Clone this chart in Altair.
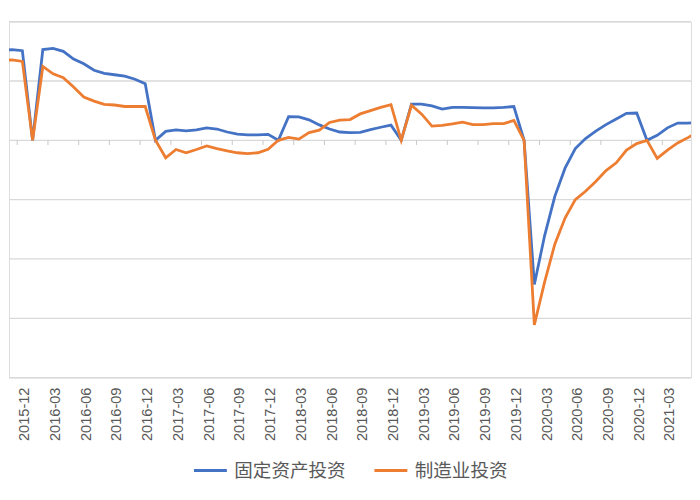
import altair as alt
import pandas as pd

# ---------------- data ----------------
months = [
    "2015-10", "2015-11", "2015-12",
    "2016-01", "2016-02", "2016-03", "2016-04", "2016-05", "2016-06",
    "2016-07", "2016-08", "2016-09", "2016-10", "2016-11", "2016-12",
    "2017-01", "2017-02", "2017-03", "2017-04", "2017-05", "2017-06",
    "2017-07", "2017-08", "2017-09", "2017-10", "2017-11", "2017-12",
    "2018-01", "2018-02", "2018-03", "2018-04", "2018-05", "2018-06",
    "2018-07", "2018-08", "2018-09", "2018-10", "2018-11", "2018-12",
    "2019-01", "2019-02", "2019-03", "2019-04", "2019-05", "2019-06",
    "2019-07", "2019-08", "2019-09", "2019-10", "2019-11", "2019-12",
    "2020-01", "2020-02", "2020-03", "2020-04", "2020-05", "2020-06",
    "2020-07", "2020-08", "2020-09", "2020-10", "2020-11", "2020-12",
    "2021-01", "2021-02", "2021-03", "2021-04", "2021-05", "2021-06",
]

fixed_asset = [
    15.2, 15.3, 15.1,
    0, 15.3, 15.5, 15.0, 13.7, 12.9,
    11.8, 11.3, 11.05, 10.8, 10.3, 9.55,
    0, 1.5, 1.75, 1.6, 1.75, 2.1,
    1.9, 1.4, 1.05, 0.9, 0.9, 1.0,
    0, 4.0, 3.95, 3.45, 2.6, 1.9,
    1.4, 1.3, 1.35, 1.8, 2.2, 2.55,
    0, 6.1, 6.1, 5.8, 5.25, 5.55,
    5.55, 5.5, 5.45, 5.45, 5.55, 5.7,
    0, -24.3, -16.1, -9.45, -4.7, -1.4,
    0.3, 1.55, 2.65, 3.6, 4.55, 4.6,
    0, 0.85, 2.1, 2.9, 2.9, 3.05,
]

manufacturing = [
    13.4, 13.55, 13.3,
    0, 12.45, 11.2, 10.55, 9.0, 7.3,
    6.6, 6.05, 5.95, 5.7, 5.7, 5.7,
    0, -2.95, -1.55, -2.1, -1.55, -0.95,
    -1.4, -1.8, -2.1, -2.25, -2.1, -1.5,
    0, 0.5, 0.2, 1.3, 1.7, 3.0,
    3.4, 3.5, 4.45, 5.0, 5.55, 6.0,
    0, 5.9, 4.4, 2.4, 2.5, 2.75,
    3.05, 2.65, 2.65, 2.8, 2.8, 3.35,
    0, -31.1, -23.9, -17.5, -13.1, -10.0,
    -8.6, -6.95, -5.1, -3.8, -1.65, -0.55,
    0, -3.05, -1.65, -0.45, 0.45, 1.4,
]

series_names = ["固定资产投资", "制造业投资"]
series_colors = ["#4472C4", "#ED7D31"]
y_ticks = [-40, -30, -20, -10, 0, 10, 20]

# ---------------- tables ----------------
FIRST = -2  # index of "2015-10" relative to "2015-12"
X_DOMAIN = [-1.305, 65.3]
rows = []
for i, m in enumerate(months):
    rows.append({"k": i + FIRST, "month": m, "value": fixed_asset[i], "series": series_names[0]})
    rows.append({"k": i + FIRST, "month": m, "value": manufacturing[i], "series": series_names[1]})
df = pd.DataFrame(rows)

label_ticks = [i + FIRST for i, m in enumerate(months)
               if m[5:] in ("03", "06", "09", "12") and X_DOMAIN[0] <= i + FIRST <= X_DOMAIN[1]]
label_df = pd.DataFrame({"k": label_ticks,
                         "label": [months[t - FIRST] for t in label_ticks]})
# small tick marks of the category axis sit between categories
tick_df = pd.DataFrame({"k": [t - 0.5 for t in label_ticks], "y0": 0.0, "y1": -0.8})
grid_df = pd.DataFrame({"v": y_ticks})

x_scale = alt.Scale(domain=X_DOMAIN, nice=False, zero=False)
y_scale = alt.Scale(domain=[-40, 20], nice=False, zero=False)

grid = alt.Chart(grid_df).mark_rule(color="#d9d9d9", strokeWidth=1.3).encode(
    y=alt.Y("v:Q", scale=y_scale, axis=None),
)

lines = alt.Chart(df).mark_line(strokeWidth=2.8, clip=True).encode(
    x=alt.X("k:Q", scale=x_scale, axis=None),
    y=alt.Y("value:Q", scale=y_scale, axis=None),
    color=alt.Color("series:N",
                    scale=alt.Scale(domain=series_names, range=series_colors),
                    sort=series_names,
                    legend=alt.Legend(title=None, orient="none", direction="horizontal",
                                      legendX=184, legendY=432, symbolType="stroke",
                                      symbolSize=1089, symbolStrokeWidth=3,
                                      labelFontSize=18.6, labelColor="#595959",
                                      labelFont="Noto Sans CJK SC", labelOffset=6,
                                      columnPadding=22, padding=0)),
    order=alt.Order("k:Q"),
)

# category-axis labels, rotated, below the plot area
labels = alt.Chart(label_df).mark_text(
    angle=270, align="right", baseline="middle", fontSize=14.6, dy=3,
    font="Liberation Sans", color="#595959",
).encode(
    x=alt.X("k:Q", scale=x_scale, axis=None),
    y=alt.value(367),
    text=alt.Text("label:N"),
)

ticks = alt.Chart(tick_df).mark_rule(color="#c8c8c8", strokeWidth=1, clip=True).encode(
    x=alt.X("k:Q", scale=x_scale, axis=None),
    y=alt.Y("y0:Q", scale=y_scale, axis=None),
    y2=alt.Y2("y1:Q"),
)

chart = alt.layer(grid, ticks, lines, labels).properties(
    width=684, height=357,
    padding={"left": 0, "top": 12, "right": 0, "bottom": 0},
).configure_view(strokeWidth=0).configure(background="white")

chart.save("out.html", embed_options={"renderer": "svg", "actions": False})
